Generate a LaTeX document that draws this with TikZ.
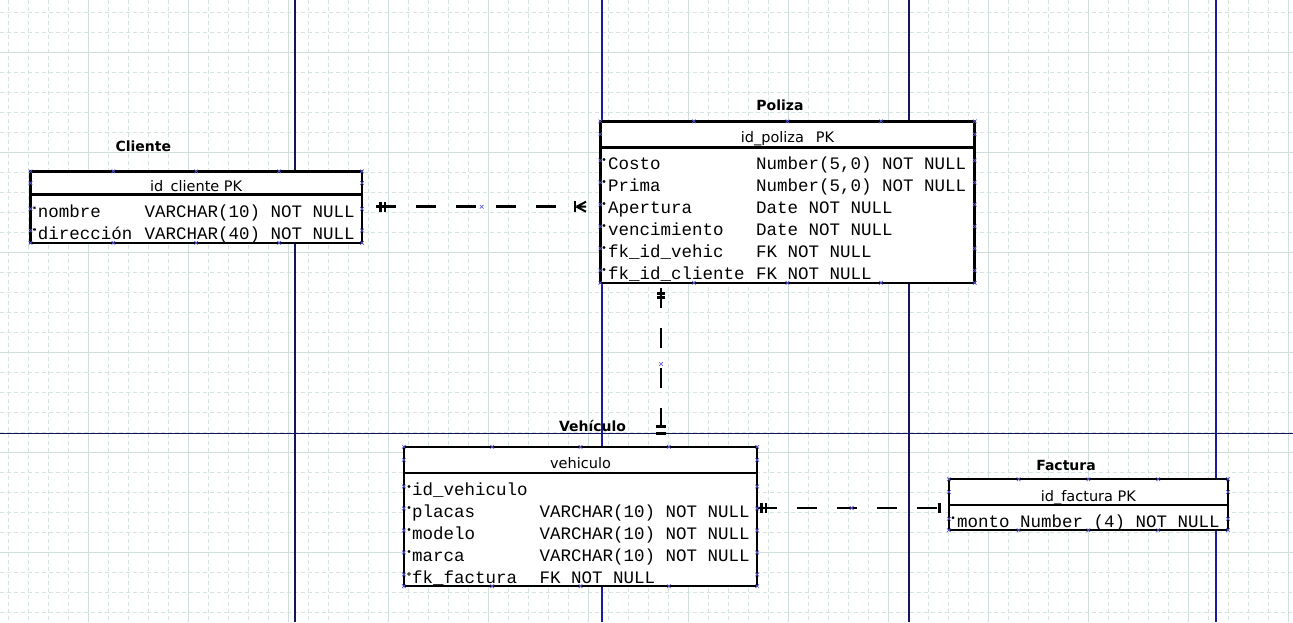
\documentclass[tikz,border=0pt]{standalone}
\usepackage{fontspec}
\setmainfont{DejaVu Sans}
\setmonofont{Liberation Mono}
\usetikzlibrary{calc}
\definecolor{gridc}{HTML}{D5E4E0}
\definecolor{gridm}{HTML}{CFDFDB}
\definecolor{pagec}{HTML}{1A1AA8}
\definecolor{paged}{HTML}{15155E}
\definecolor{handlec}{HTML}{5656DC}
\tikzset{
  every node/.style={inner sep=0pt, outer sep=0pt},
  gridminor/.style={gridc, line width=0.9pt, dash pattern=on 4pt off 3pt},
  gridmajor/.style={gridm, line width=1pt},
  pagebreak/.style={pagec, line width=1.1pt},
  pagebreakdark/.style={paged, line width=1.1pt},
  tbl/.style={draw=black, line width=2.5pt, fill=white, rectangle, anchor=north west},
  sepline/.style={line width=2.5pt},
  tabletitle/.style={font=\fontsize{14}{14}\selectfont\bfseries, anchor=base},
  hdr/.style={font=\fontsize{14.5}{15}\selectfont, anchor=base},
  col/.style={font=\fontsize{17.5}{18}\selectfont\ttfamily, anchor=base west},
  rel/.style={line width=2.6pt, dash pattern=on 20pt off 20pt},
  relbar/.style={line width=2.5pt},
  relfork/.style={line width=2pt},
  handle/.pic={\draw[handlec, line width=0.7pt] (-1.8,-1.8) -- (1.8,1.8) (-1.8,1.8) -- (1.8,-1.8);},
  rowstar/.pic={\draw[black, line width=0.6pt] (-1.4,0) -- (1.4,0) (-0.8,-1.2) -- (0.8,1.2) (-0.8,1.2) -- (0.8,-1.2);},
  rowdot/.pic={\fill[black] (0,0) circle (1.6pt);},
  rowring/.pic={\draw[black, line width=0.6pt] (0,0) circle (1.4pt);},
}
\begin{document}
\begin{tikzpicture}[x=1pt,y=-1pt]
\useasboundingbox (0,0) rectangle (1293,622);
\fill[white] (0,0) rectangle (1293,622);

% background grid
\foreach \gx in {8,28,...,1288} \draw[gridminor] (\gx,0) -- (\gx,622);
\foreach \gy in {12,32,...,612} \draw[gridminor] (0,\gy) -- (1293,\gy);
\foreach \gx in {88,188,...,1288} \draw[gridmajor] (\gx,0) -- (\gx,622);
\foreach \gy in {52,152,...,552} \draw[gridmajor] (0,\gy) -- (1293,\gy);

% page boundaries
\foreach \gx in {602,1216} \draw[pagebreak] (\gx,0) -- (\gx,622);
\foreach \gx in {295,909} \draw[pagebreakdark] (\gx,0) -- (\gx,622);
\draw[pagebreakdark] (0,433.3) -- (1293,433.3);

% ---------- Cliente ----------
\node[tabletitle] (tcliente) at (143.3,151.7) {Cliente};
\node[tbl, minimum width=331.5pt, minimum height=71.5pt] (cliente) at (30.5,171.3) {};
\draw[sepline] ($(cliente.north west)+(0,23.4)$) -- ($(cliente.north east)+(0,23.4)$);
\node[hdr] (hcliente) at (196.2,191) {id\_cliente PK};
\node[col] (cl1n) at (37.8,217.3) {nombre};
\node[col] (cl1t) at (144.5,217.3) {VARCHAR(10) NOT NULL};
\node[col] (cl2n) at (37.8,239) {dirección};
\node[col] (cl2t) at (144.5,239) {VARCHAR(40) NOT NULL};

% ---------- Poliza ----------
\node[tabletitle] (tpoliza) at (780,110) {Poliza};
\node[tbl, minimum width=374.4pt, minimum height=161.5pt] (poliza) at (600.3,121.3) {};
\draw[sepline] ($(poliza.north west)+(0,26)$) -- ($(poliza.north east)+(0,26)$);
\node[hdr] (hpoliza) at (787.5,142.3) {id\_poliza\hspace{12pt}PK};
\node[col] (po1n) at (608,169) {Costo};
\node[col] (po1t) at (756,169) {Number(5,0) NOT NULL};
\node[col] (po2n) at (608,191) {Prima};
\node[col] (po2t) at (756,191) {Number(5,0) NOT NULL};
\node[col] (po3n) at (608,213) {Apertura};
\node[col] (po3t) at (756,213) {Date NOT NULL};
\node[col] (po4n) at (608,235) {vencimiento};
\node[col] (po4t) at (756,235) {Date NOT NULL};
\node[col] (po5n) at (608,257) {fk\_id\_vehic};
\node[col] (po5t) at (756,257) {FK NOT NULL};
\node[col] (po6n) at (608,279) {fk\_id\_cliente};
\node[col] (po6t) at (756,279) {FK NOT NULL};

% ---------- Vehiculo ----------
\node[tabletitle] (tvehiculo) at (592.5,431) {Vehículo};
\node[tbl, minimum width=353.4pt, minimum height=139.4pt] (vehiculo) at (403.8,446.8) {};
\draw[sepline] ($(vehiculo.north west)+(0,26)$) -- ($(vehiculo.north east)+(0,26)$);
\node[hdr] (hvehiculo) at (580.5,468.3) {vehiculo};
\node[col] (ve1n) at (412,495) {id\_vehiculo};
\node[col] (ve2n) at (412,517) {placas};
\node[col] (ve2t) at (539.5,517) {VARCHAR(10) NOT NULL};
\node[col] (ve3n) at (412,539) {modelo};
\node[col] (ve3t) at (539.5,539) {VARCHAR(10) NOT NULL};
\node[col] (ve4n) at (412,561) {marca};
\node[col] (ve4t) at (539.5,561) {VARCHAR(10) NOT NULL};
\node[col] (ve5n) at (412,583) {fk\_factura};
\node[col] (ve5t) at (539.5,583) {FK NOT NULL};

% ---------- Factura ----------
\node[tabletitle] (tfactura) at (1066,470) {Factura};
\node[tbl, minimum width=279.2pt, minimum height=51pt] (factura) at (948.8,479.2) {};
\draw[sepline] ($(factura.north west)+(0,25.6)$) -- ($(factura.north east)+(0,25.6)$);
\node[hdr] (hfactura) at (1088.4,501.5) {id\_factura PK};
\node[col] (fa1) at (957,527.3) {monto Number (4) NOT NULL};

% attribute markers
\foreach \my in {207.8,229.5} \pic at (34.5,\my) {rowstar};
\foreach \my in {159.5,181.5,203.5,225.5,247.5,269.5} \pic at (604,\my) {rowstar};
\pic at (409,486.5) {rowdot};
\foreach \my in {507.5,529.5,551.5} \pic at (409,\my) {rowstar};
\pic at (409,574) {rowring};
\pic at (953,517.7) {rowstar};

% ---------- relationships ----------
% Cliente -- Poliza
\coordinate (cpL) at (376,206.7);
\coordinate (cpR) at (556,206.7);
\coordinate (cpF) at (575,206.7);
\draw[rel] (cpL) -- (cpR);
\draw[relbar] (cpL) ++(4.7,-5) -- ++(0,10) (cpL) ++(9,-5) -- ++(0,10);
\draw[relbar] (cpF) ++(0,-5.5) -- ++(0,11);
\draw[relfork] (cpF) ++(1.5,0) -- ++(9.5,-5) (cpF) ++(1.5,0) -- ++(9.5,0) (cpF) ++(1.5,0) -- ++(9.5,5);

% Poliza -- Vehiculo
\coordinate (pvT) at (661,288);
\coordinate (pvB) at (661,428);
\draw[rel] (pvT) -- (pvB);
\draw[relbar] (pvT) ++(-3.7,5.3) -- ++(7.3,0) (pvT) ++(-3.7,9.3) -- ++(7.3,0);
\draw[relbar, line width=3pt] (pvB) ++(-5.3,-1.3) -- ++(10.6,0);
\draw[relbar, line width=2.5pt] (pvB) ++(-5.3,5.3) -- ++(10.6,0);

% Vehiculo -- Factura
\coordinate (vfL) at (757,508);
\coordinate (vfR) at (937,508);
\draw[rel] (vfL) -- (vfR);
\draw[relbar] (vfL) ++(4.7,-4.7) -- ++(0,9.4) (vfL) ++(9,-4.7) -- ++(0,9.4);
\draw[relbar, line width=3pt] (vfR) ++(2,-5.3) -- ++(0,10.6);

% selection handles
\foreach \hx in {30.5,113.4,196.2,279.1,362} \foreach \hy in {171.3,242.8} \pic at (\hx,\hy) {handle};
\foreach \hy in {183,208.8,230.5} \foreach \hx in {30.5,362} \pic at (\hx,\hy) {handle};
\foreach \hx in {600.3,693.9,787.5,881.1,974.7} \foreach \hy in {121.3,282.8} \pic at (\hx,\hy) {handle};
\foreach \hy in {134.3,160.5,182.5,204.5,226.5,248.5,270.5} \foreach \hx in {600.3,974.7} \pic at (\hx,\hy) {handle};
\foreach \hx in {403.8,492.2,580.5,668.9,757.2} \foreach \hy in {446.8,586.2} \pic at (\hx,\hy) {handle};
\foreach \hy in {459.8,486.5,508.5,530.5,552.5,574.5} \foreach \hx in {403.8,757.2} \pic at (\hx,\hy) {handle};
\foreach \hx in {948.8,1018.6,1088.4,1158.2,1228} \foreach \hy in {479.2,530.2} \pic at (\hx,\hy) {handle};
\foreach \hy in {492,518.8} \foreach \hx in {948.8,1228} \pic at (\hx,\hy) {handle};
\pic at (481.7,206.7) {handle};
\pic at (661,364) {handle};
\pic at (851.7,508) {handle};
\end{tikzpicture}
\end{document}
